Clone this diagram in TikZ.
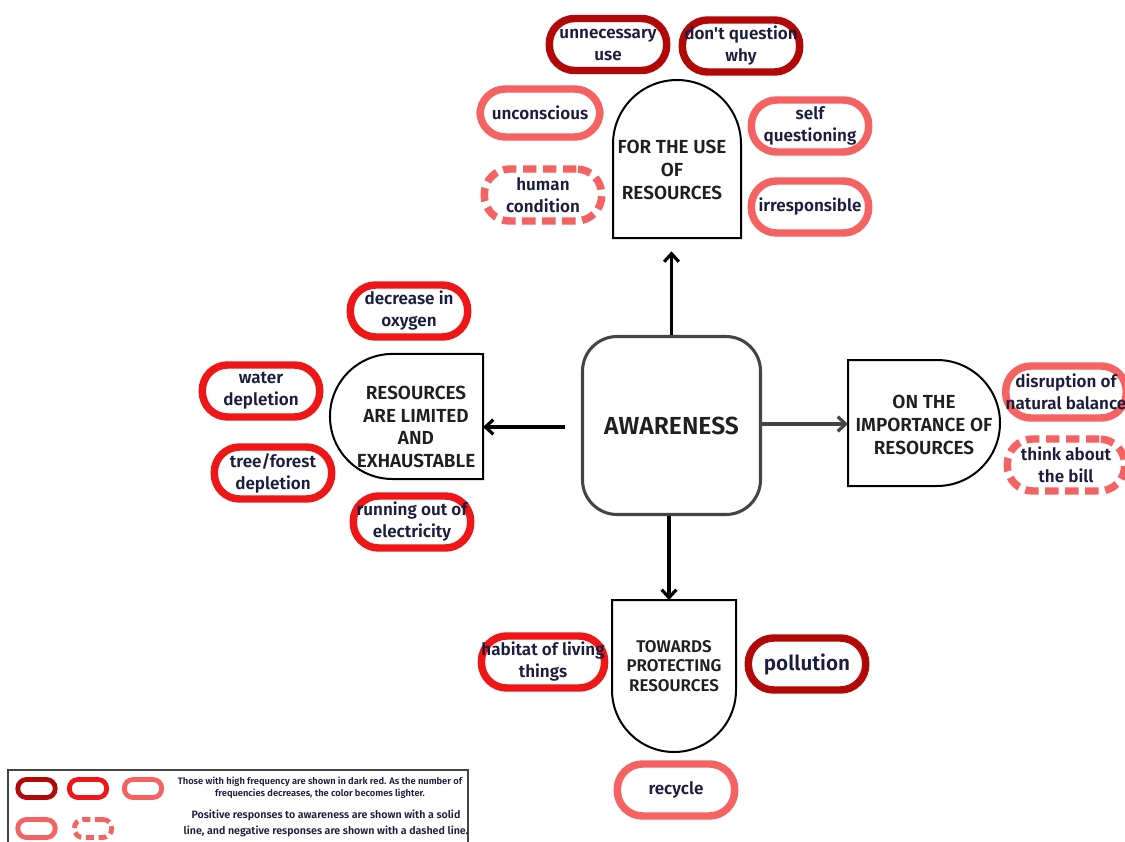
\documentclass[tikz,border=0pt]{standalone}
\usepackage{fontspec}
\setmainfont{Fira Sans}[BoldFont={Fira Sans SemiBold}, Ligatures=TeXOff]
\usetikzlibrary{arrows.meta}
\definecolor{dkred}{RGB}{178,8,8}
\definecolor{rd}{RGB}{238,22,22}
\definecolor{lt}{RGB}{244,98,98}
\definecolor{txt}{RGB}{28,28,62}
\definecolor{aw}{RGB}{68,68,68}
\tikzset{
  pill/.style={draw, line width=5.6pt, rounded corners=19pt, minimum width=88pt, minimum height=39pt,
    inner sep=0pt, align=center, text=txt, font=\fontsize{12.8}{16.5}\selectfont\bfseries},
  dk/.style={pill, draw=dkred},
  rr/.style={pill, draw=rd},
  li/.style={pill, draw=lt},
  dsh/.style={dash pattern=on 10pt off 5pt},
  region/.style={inner sep=0pt, outer sep=0pt},
  outline/.style={draw=black, line width=1.5pt},
  lbl/.style={align=center, font=\fontsize{14.2}{17}\selectfont\bfseries, text=black!88},
  arr/.style={line width=2.6pt, -{Straight Barb[length=6pt,width=11pt,line width=2.4pt]}},
  mini/.style={draw, line width=3.6pt, rounded corners=6.5pt, minimum width=28pt, minimum height=13.5pt, inner sep=0pt},
}
\begin{document}
\begin{tikzpicture}[x=0.75pt,y=-0.75pt]
\clip (0,0) rectangle (1125,842);
\useasboundingbox (0,0) rectangle (1125,842);
\fill[white] (0,0) rectangle (1125,842);

% central node
\node[draw=aw, line width=2.3pt, rounded corners=26pt, minimum width=133.5pt, minimum height=133.5pt,
  font=\fontsize{18.5}{22}\selectfont\bfseries, text=black!88] (aw) at (671.5,425.5) {AWARENESS};

% top shape
\node[region, minimum width=96pt, minimum height=118.5pt] (use) at (677,159) {};
\draw[outline] (613,238) -- (741,238) -- (741,144) arc[start angle=0,end angle=180,radius=48pt] -- cycle;
\node[lbl] (uset) at (672,170) {FOR THE USE\\OF\\RESOURCES};

% left shape
\node[region, minimum width=114.75pt, minimum height=93.75pt] (res) at (406.5,416.5) {};
\draw[outline] (483,354) -- (483,479) -- (392.5,479) arc[start angle=270,end angle=90,radius=46.9pt] -- cycle;
\node[lbl] (rest) at (416,427) {RESOURCES\\ARE LIMITED\\AND\\EXHAUSTABLE};

% right shape
\node[region, minimum width=114pt, minimum height=94.5pt] (imp) at (924,423) {};
\draw[outline] (848,360) -- (848,486) -- (937,486) arc[start angle=-90,end angle=90,radius=47.25pt] -- cycle;
\node[lbl] (impt) at (924,425) {ON THE\\IMPORTANCE OF\\RESOURCES};

% bottom shape
\node[region, minimum width=93pt, minimum height=114pt] (prot) at (674,676) {};
\draw[outline] (612,600) -- (736,600) -- (736,690) arc[start angle=0,end angle=-180,radius=46.5pt] -- cycle;
\node[lbl, font=\fontsize{12.7}{14.7}\selectfont\bfseries] (prott) at (674,666) {TOWARDS\\PROTECTING\\RESOURCES};

% arrows
\draw[arr, shorten >=10pt] (aw.north) -- (aw.north |- use.south);
\draw[arr, shorten <=12pt] (aw.west |- 0,427) -- (res.east |- 0,427);
\draw[arr, draw=aw] (aw.east |- 0,424) -- (imp.west |- 0,424);
\draw[arr] (aw.south -| 669,0) -- (prot.north -| 669,0);

% pills
\node[dk] (p1) at (608,44.5) {unnecessary\\use};
\node[dk] (p2) at (741,46) {don't question\\why};
\node[li, minimum height=36pt, minimum width=90pt] (p3) at (540,113) {unconscious};
\node[li, dsh] (p4) at (543,195) {human\\condition};
\node[li] (p5) at (810,126) {self\\questioning};
\node[li] (p6) at (810,207) {irresponsible};
\node[rr] (p7) at (409,311) {decrease in\\oxygen};
\node[rr] (p8) at (261,391) {water\\depletion};
\node[rr] (p9) at (273,473) {tree/forest\\depletion};
\node[rr] (p10) at (412,522) {running out of\\electricity};
\node[li] (p11) at (1066,392) {disruption of\\natural balance};
\node[li, dsh] (p12) at (1066,465) {think about\\the bill};
\node[rr] (p13) at (543,662) {habitat of living\\things};
\node[dk, font=\fontsize{15.5}{18}\selectfont\bfseries] (p14) at (807,664) {pollution};
\node[li] (p15) at (676,790) {recycle};

% legend
\draw[draw=aw, line width=1.5pt] (8,770) rectangle (468,860);
\node[mini, draw=dkred] (m1) at (36.5,788.5) {};
\node[mini, draw=rd] (m2) at (88,788.5) {};
\node[mini, draw=lt] (m3) at (143,788.5) {};
\node[mini, draw=lt] (m4) at (36.5,828.5) {};
\node[mini, draw=lt, dash pattern=on 6pt off 3.5pt] (m5) at (93,828.5) {};
\node[align=center, text=txt, font=\fontsize{7}{9}\selectfont\bfseries] (l1) at (320,788) {Those with high frequency are shown in dark red. As the number of\\frequencies decreases, the color becomes lighter.};
\node[align=center, text=txt, font=\fontsize{8}{12}\selectfont\bfseries] (l2) at (326,823) {Positive responses to awareness are shown with a solid\\line, and negative responses are shown with a dashed line.};
\end{tikzpicture}
\end{document}
